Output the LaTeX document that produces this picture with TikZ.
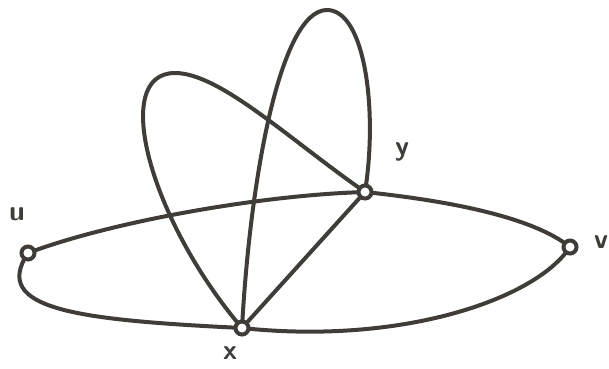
\documentclass[tikz,border=0pt]{standalone}
\usepackage{xcolor}
\definecolor{ink}{RGB}{64,60,56}
\begin{document}
\begin{tikzpicture}[x=1pt,y=-1pt,
  vert/.style={circle,draw=ink,fill=white,line width=4pt,minimum size=13pt,inner sep=0pt},
  edge/.style={draw=ink,line width=4pt,line cap=round,line join=round},
  lab/.style={text=ink,font=\sffamily\bfseries\fontsize{28}{28}\selectfont,inner sep=0pt}]
\useasboundingbox (0,0) rectangle (609,368);
\coordinate (u) at (28,253);
\coordinate (x) at (242,328);
\coordinate (y) at (365,192);
\coordinate (v) at (570,247);
\coordinate (t1) at (175,73);
\coordinate (t2) at (327,10);
% edges
\path[edge] (u) .. controls (110,222) and (260,195) .. (y);
\path[edge] (u) .. controls (-10,310) and (80,320) .. (x);
\path[edge] (x) .. controls (400,345) and (535,300) .. (v);
\path[edge] (y) .. controls (440,200) and (530,215) .. (v);
\path[edge] (x) -- (y);
\path[edge] (x) .. controls (150,220) and (110,73) .. (t1) .. controls (220,73) and (290,140) .. (y);
\path[edge] (x) .. controls (250,180) and (280,10) .. (t2) .. controls (365,10) and (378,110) .. (y);
% vertices
\node[vert] (nu) at (u) {};
\node[vert] (nx) at (x) {};
\node[vert] (ny) at (y) {};
\node[vert] (nv) at (v) {};
% labels
\node[lab] (lu) at (17,214) {u};
\node[lab] (ly) at (402,152) {y};
\node[lab] (lv) at (601,242) {v};
\node[lab] (lx) at (230,353) {x};
\end{tikzpicture}
\end{document}
